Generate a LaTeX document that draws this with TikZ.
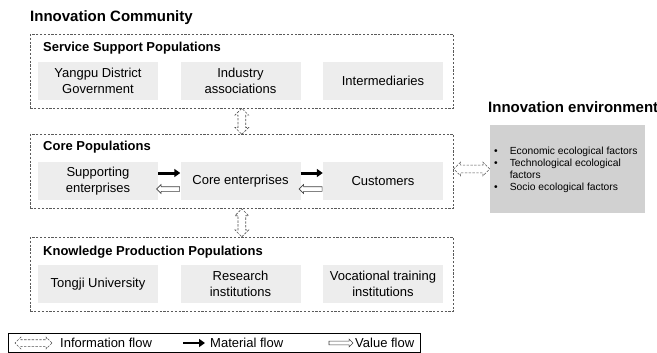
\documentclass[tikz,border=0pt]{standalone}
\usepackage{fontspec}
\setmainfont{Liberation Sans}
\usetikzlibrary{shapes.arrows,arrows.meta}
\definecolor{memberfill}{HTML}{EDEDED}
\definecolor{envfill}{HTML}{D1D1D1}
\definecolor{dashgray}{HTML}{5A5A5A}

\begin{document}
\begin{tikzpicture}[x=1pt,y=-1pt,
    maintitle/.style={anchor=west, inner sep=0pt, font=\fontsize{15}{18}\selectfont\bfseries},
    poptitle/.style={anchor=west, inner sep=0pt, font=\fontsize{13}{15.6}\selectfont\bfseries},
    pop/.style={draw=dashgray, line width=0.7pt, dash pattern=on 2.2pt off 1.6pt,
      anchor=north west, inner sep=0pt, minimum width=423pt, minimum height=74pt},
    member/.style={fill=memberfill, inner sep=0pt, minimum width=120pt, minimum height=38pt,
      align=center, font=\fontsize{13}{15.6}\selectfont},
    envbox/.style={fill=envfill, inner sep=0pt, minimum width=155pt, minimum height=88pt},
    infoflow/.style={double arrow, draw=black!68, line width=0.65pt, dash pattern=on 2.4pt off 1.4pt,
      inner xsep=0pt, inner ysep=3.5pt, double arrow head extend=3pt,
      double arrow head indent=0pt, minimum height=#1},
    material/.style={line width=3pt, -{Triangle[length=6pt, width=8pt]}},
    valueflow/.style={single arrow, draw=black!75, fill=white, line width=0.6pt,
      inner xsep=0pt, inner ysep=2pt, single arrow head extend=2.2pt, minimum height=#1},
    legtext/.style={anchor=west, inner sep=0pt, font=\fontsize{13}{15.6}\selectfont}
  ]
  \useasboundingbox (0,0) rectangle (657,353);

  \node[maintitle] (T) at (30,18) {Innovation Community};

  % service support populations
  \node[pop] (S) at (30,34) {};
  \node[poptitle] (S0) at (43,48) {Service Support Populations};
  \node[member] (S1) at (98,81) {Yangpu District\\Government};
  \node[member] (S2) at (240.5,81) {Industry\\associations};
  \node[member] (S3) at (383,81) {Intermediaries};

  % core populations
  \node[pop] (C) at (30,134) {};
  \node[poptitle] (C0) at (43,147) {Core Populations};
  \node[member] (C1) at (98,181) {Supporting\\enterprises};
  \node[member] (C2) at (240.5,181) {Core enterprises};
  \node[member] (C3) at (383,181) {Customers};

  % knowledge production populations
  \node[pop] (K) at (30,237) {};
  \node[poptitle] (K0) at (43,252) {Knowledge Production Populations};
  \node[member] (K1) at (98,284) {Tongji University};
  \node[member] (K2) at (240.5,284) {Research\\institutions};
  \node[member] (K3) at (383,284) {Vocational training\\institutions};

  % environment
  \node[maintitle] (E0) at (488,107) {Innovation environment};
  \node[envbox] (E) at (567.5,169) {};
  \node[anchor=west, inner sep=0pt, font=\fontsize{10.3}{12}\selectfont] (E1) at (494,170) {%
    \begin{tabular}{@{}l@{\hspace{12pt}}l@{}}
      \textbullet & Economic ecological factors\\
      \textbullet & Technological ecological\\
                  & factors\\
      \textbullet & Socio ecological factors
    \end{tabular}};

  % flows
  \path (S.south) -- node[infoflow=26pt, sloped] {} (C.north);
  \path (C.south) -- node[infoflow=28pt, sloped] {} (K.north);
  \path (C.east |- E.west) -- node[infoflow=36pt] {} (E.west);

  \draw[material] ([yshift=8pt]C1.east) -- ([yshift=8pt]C2.west);
  \draw[material] ([yshift=8pt]C2.east) -- ([yshift=8pt]C3.west);
  \path ([yshift=-8pt]C2.west) -- node[valueflow=23pt, shape border rotate=180] {} ([yshift=-8pt]C1.east);
  \path ([yshift=-8pt]C3.west) -- node[valueflow=23pt, shape border rotate=180] {} ([yshift=-8pt]C2.east);

  % legend
  \draw[line width=0.8pt] (8,333) rectangle (420,352.5);
  \coordinate (L1) at (15,343);
  \coordinate (L2) at (52,343);
  \path (L1) -- node[infoflow=37pt, inner ysep=3pt, double arrow head extend=2.5pt] {} (L2);
  \node[legtext] (L0) at (60,343) {Information flow};
  \coordinate (L3) at (183,343);
  \coordinate (L4) at (205,343);
  \draw[material, line width=2.5pt] (L3) -- (L4);
  \node[legtext] (M0) at (210,343) {Material flow};
  \coordinate (L5) at (328,343);
  \coordinate (L6) at (352,343);
  \path (L5) -- node[valueflow=24pt, inner ysep=1.6pt, single arrow head extend=2pt] {} (L6);
  \node[legtext] (V0) at (355,343) {Value flow};
\end{tikzpicture}
\end{document}
